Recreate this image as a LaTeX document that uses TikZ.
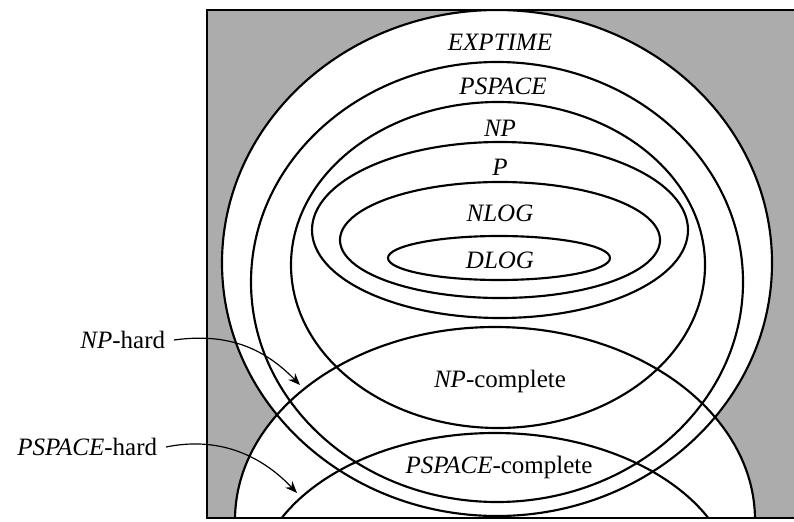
\documentclass[tikz,border=0pt]{standalone}
\usepackage{fontspec}
\setmainfont{Liberation Serif}
\usetikzlibrary{arrows.meta}
\definecolor{bggray}{RGB}{172,172,172}
\begin{document}
\begin{tikzpicture}[x=0.42pt,y=-0.42pt,
  cls/.style={line width=0.9pt},
  lbl/.style={font=\fontsize{10.5}{12}\selectfont, inner sep=1pt},
  leader/.style={line width=0.5pt,-{Stealth[length=5pt,width=4pt]}}]
\useasboundingbox (0,0) rectangle (794,521);
\fill[bggray] (207,10) rectangle (800,518);
\begin{scope}
\clip (207,10) rectangle (800,518);
\fill[white] (497,263) ellipse [x radius=275,y radius=253];
\fill[white] (495,520) ellipse [x radius=260,y radius=193];
\draw[cls] (497,263) ellipse [x radius=275,y radius=253]; % EXPTIME
\draw[cls] (497,282) ellipse [x radius=246,y radius=220]; % PSPACE
\draw[cls] (498,265) ellipse [x radius=207,y radius=163]; % NP
\draw[cls] (500,230) ellipse [x radius=188,y radius=88];  % P
\draw[cls] (500,240) ellipse [x radius=160,y radius=58];  % NLOG
\draw[cls] (499,258) ellipse [x radius=111,y radius=22];  % DLOG
\draw[cls] (495,520) ellipse [x radius=260,y radius=193]; % NP-hard
\draw[cls] (495,590) ellipse [x radius=240,y radius=157]; % PSPACE-hard
\end{scope}
\draw[cls] (800,10) -- (207,10) -- (207,518) -- (800,518);

\node[lbl] (exptime) at (500,42) {\textit{EXPTIME}};
\node[lbl] (pspace) at (503,86) {\textit{PSPACE}};
\node[lbl] (np) at (500,128) {\textit{NP}};
\node[lbl] (p) at (500,167) {\textit{P}};
\node[lbl] (nlog) at (500,213) {\textit{NLOG}};
\node[lbl] (dlog) at (500,260) {\textit{DLOG}};
\node[lbl] (npc) at (500,381) {\textit{NP}-complete};
\node[lbl] (pspc) at (499,467) {\textit{PSPACE}-complete};
\node[lbl,anchor=east] (nphard) at (168,340) {\textit{NP}-hard};
\node[lbl,anchor=east] (psphard) at (160,447) {\textit{PSPACE}-hard};

\coordinate (nphpt) at (300,385);
\coordinate (psphpt) at (297,493);
\draw[leader] (nphard.east) ++(6,0) .. controls (225,333) and (262,346) .. (nphpt);
\draw[leader] (psphard.east) ++(6,0) .. controls (215,437) and (258,452) .. (psphpt);
\end{tikzpicture}
\end{document}
